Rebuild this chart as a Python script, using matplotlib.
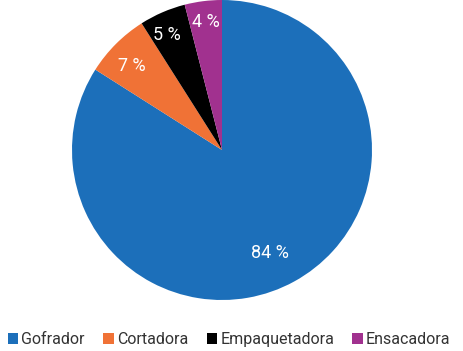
import numpy as np
import matplotlib.pyplot as plt

plt.rcParams["font.family"] = ["Roboto", "DejaVu Sans"]

labels = ["Gofrador", "Cortadora", "Empaquetadora", "Ensacadora"]
values = [84, 7, 5, 4]
colors = ["#1c6fba", "#f07236", "#000000", "#a1318f"]

fig = plt.figure(figsize=(4.63, 3.51), dpi=100)
ax = fig.add_axes([72 / 463, 1 - 300 / 351, 300 / 463, 300 / 351])

wedges, _ = ax.pie(values, colors=colors, startangle=90, counterclock=False,
                   radius=1.0, wedgeprops=dict(linewidth=0))
ax.set_xlim(-1, 1)
ax.set_ylim(-1, 1)
ax.set_aspect("equal")

# label distances from centre and angle nudges, per slice
dists = [0.76, 0.82, 0.85, 0.86]
nudge = [-4, 2, 2, 0]
for w, v, d, n in zip(wedges, values, dists, nudge):
    ang = np.deg2rad((w.theta1 + w.theta2) / 2 + n)
    ax.text(d * np.cos(ang), d * np.sin(ang), f"{v} %", color="white",
            fontsize=13, ha="center", va="center")

fig.legend(wedges, labels, loc="lower center", bbox_to_anchor=(0.495, -0.03),
           ncol=4, frameon=False, fontsize=11.5, handlelength=0.65,
           handleheight=0.65, handletextpad=0.2, columnspacing=1.15,
           labelcolor="#333333")

fig.savefig("out.png", dpi=100)
